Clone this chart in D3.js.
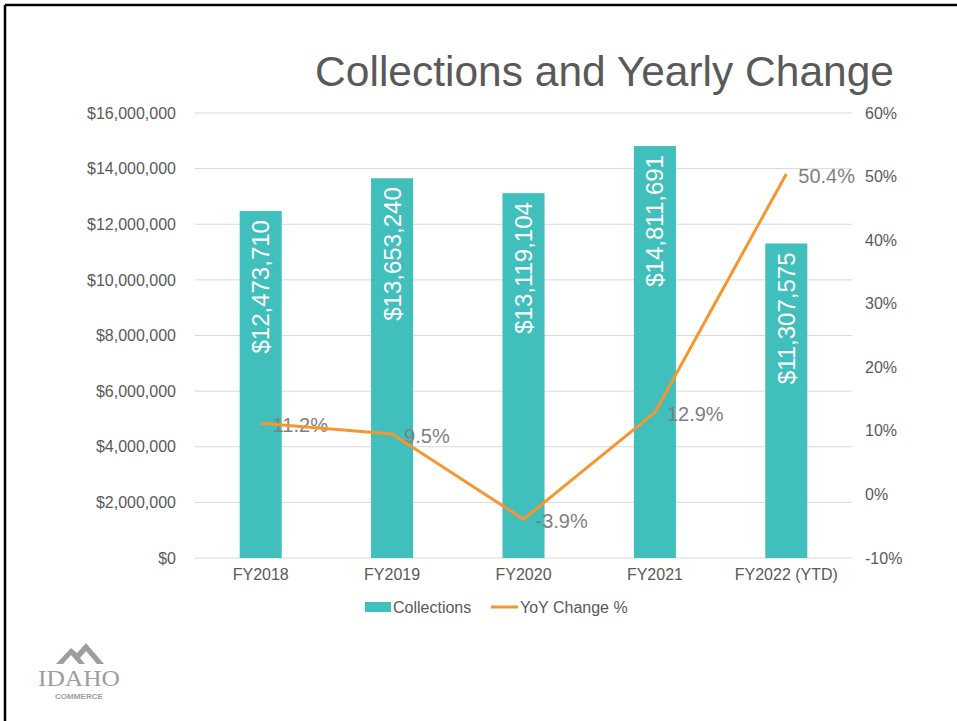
<!DOCTYPE html>
<html>
<head>
<meta charset="utf-8">
<script src="https://cdn.jsdelivr.net/npm/d3@7"></script>
<style>
  body { margin: 0; background: #fff; }
  text { font-family: "Liberation Sans", Arial, sans-serif; }
</style>
</head>
<body>
<div id="chart"></div>
<script>
// chart data
const years = ["FY2018", "FY2019", "FY2020", "FY2021", "FY2022 (YTD)"];
const collections = [12473710, 13653240, 13119104, 14811691, 11307575];
const yoyChange = [11.2, 9.5, -3.9, 12.9, 50.4];
const leftTicks = [0, 2000000, 4000000, 6000000, 8000000, 10000000, 12000000, 14000000, 16000000];
const rightTicks = [-10, 0, 10, 20, 30, 40, 50, 60];

const width = 957;
const height = 721;
const margin = {left: 195, right: 105, top: 113, bottom: 163};

const barColor = "#40bfbd";
const lineColor = "#f7962f";
const textColor = "#595959";

const svg = d3.select("#chart")
  .append("svg")
  .attr("width", width)
  .attr("height", height);

// slide frame (top and left edges)
svg.append("line").attr("x1", 5).attr("y1", 5).attr("x2", width).attr("y2", 5)
  .attr("stroke", "#000").attr("stroke-width", 2.5);
svg.append("line").attr("x1", 5).attr("y1", 5).attr("x2", 5).attr("y2", height)
  .attr("stroke", "#000").attr("stroke-width", 2.5);

const xScale = d3.scaleBand()
  .domain(years)
  .range([margin.left, width - margin.right])
  .paddingInner(0.68)
  .paddingOuter(0.34);

const yLeft = d3.scaleLinear()
  .domain([0, 16000000])
  .range([height - margin.bottom, margin.top]);

const yRight = d3.scaleLinear()
  .domain([-10, 60])
  .range([height - margin.bottom, margin.top]);

// gridlines
svg.append("g")
  .selectAll("line")
  .data(leftTicks)
  .enter()
  .append("line")
    .attr("x1", margin.left)
    .attr("x2", width - margin.right)
    .attr("y1", d => yLeft(d))
    .attr("y2", d => yLeft(d))
    .attr("stroke", "#d9d9d9")
    .attr("stroke-width", 1);

// left axis
const fmtMoney = d3.format("$,.0f");
const leftAxis = svg.append("g")
  .attr("transform", `translate(${margin.left - 19}, 0)`)
  .call(d3.axisLeft(yLeft).tickValues(leftTicks).tickFormat(fmtMoney).tickSize(0).tickPadding(0));
leftAxis.select(".domain").remove();
leftAxis.selectAll("text").attr("font-size", "16px").attr("fill", textColor)
  .style("font-family", "Liberation Sans, Arial, sans-serif");

// right axis
const rightAxis = svg.append("g")
  .attr("transform", `translate(${width - margin.right + 13}, 0)`)
  .call(d3.axisRight(yRight).tickValues(rightTicks).tickFormat(d => d + "%").tickSize(0).tickPadding(0));
rightAxis.select(".domain").remove();
rightAxis.selectAll("text").attr("font-size", "16px").attr("fill", textColor)
  .style("font-family", "Liberation Sans, Arial, sans-serif");

// bottom axis
const bottomAxis = svg.append("g")
  .attr("transform", `translate(0, ${height - margin.bottom + 11})`)
  .call(d3.axisBottom(xScale).tickSize(0).tickPadding(0));
bottomAxis.select(".domain").remove();
bottomAxis.selectAll("text").attr("font-size", "16px").attr("fill", textColor)
  .style("font-family", "Liberation Sans, Arial, sans-serif");

// bars
svg.selectAll(".bar")
  .data(collections)
  .enter()
  .append("rect")
    .attr("class", "bar")
    .attr("x", (d, i) => xScale(years[i]))
    .attr("y", d => yLeft(d))
    .attr("width", xScale.bandwidth())
    .attr("height", d => yLeft(0) - yLeft(d))
    .attr("fill", barColor);

// bar labels, rotated inside the top of each bar
svg.selectAll(".bar-label")
  .data(collections)
  .enter()
  .append("text")
    .attr("class", "bar-label")
    .attr("transform", (d, i) => `translate(${xScale(years[i]) + xScale.bandwidth() / 2}, ${yLeft(d) + 9}) rotate(-90)`)
    .attr("text-anchor", "end")
    .attr("dominant-baseline", "central")
    .attr("font-size", "24px")
    .attr("fill", "#fff")
    .text(d => fmtMoney(d));

// line labels (drawn under the line)
svg.selectAll(".line-label")
  .data(yoyChange)
  .enter()
  .append("text")
    .attr("class", "line-label")
    .attr("x", (d, i) => xScale(years[i]) + xScale.bandwidth() / 2 + 12)
    .attr("y", d => yRight(d) + 2)
    .attr("dominant-baseline", "central")
    .attr("font-size", "20px")
    .attr("fill", "#7f7f7f")
    .text(d => d.toFixed(1) + "%");

// YoY line
const line = d3.line()
  .x((d, i) => xScale(years[i]) + xScale.bandwidth() / 2)
  .y(d => yRight(d));

svg.append("path")
  .datum(yoyChange)
  .attr("d", line)
  .attr("fill", "none")
  .attr("stroke", lineColor)
  .attr("stroke-width", 3)
  .attr("stroke-linejoin", "round");

// title
svg.append("text")
  .attr("x", 894)
  .attr("y", 86)
  .attr("text-anchor", "end")
  .attr("font-size", "42.5px")
  .attr("fill", textColor)
  .text("Collections and Yearly Change");

// legend
const legend = svg.append("g").attr("transform", "translate(0, 607)");
legend.append("rect").attr("x", 365).attr("y", -5).attr("width", 26).attr("height", 10).attr("fill", barColor);
legend.append("text").attr("x", 393).attr("y", 0).attr("dominant-baseline", "central")
  .attr("font-size", "16px").attr("fill", textColor).text("Collections");
legend.append("line").attr("x1", 491).attr("x2", 518).attr("y1", 0).attr("y2", 0)
  .attr("stroke", lineColor).attr("stroke-width", 3);
legend.append("text").attr("x", 520).attr("y", 0).attr("dominant-baseline", "central")
  .attr("font-size", "16px").attr("fill", textColor).text("YoY Change %");

// logo
const logo = svg.append("g").attr("fill", "#9b9ea3");
logo.append("path").attr("d", "M56,664 L71,648 L77,653 L86,643 L104,664 L97,664 L86,651 L80,658 L85,664 L79,664 L71,655 L63,664 Z");
logo.append("text").attr("x", 79).attr("y", 686).attr("text-anchor", "middle")
  .attr("font-size", "24px").style("font-family", "Liberation Serif, DejaVu Serif, serif")
  .attr("textLength", 82).attr("lengthAdjust", "spacingAndGlyphs")
  .text("IDAHO");
logo.append("text").attr("x", 79).attr("y", 699).attr("text-anchor", "middle")
  .attr("font-size", "7px").attr("font-weight", "bold")
  .attr("textLength", 48).attr("lengthAdjust", "spacingAndGlyphs")
  .text("COMMERCE");
</script>
</body>
</html>
